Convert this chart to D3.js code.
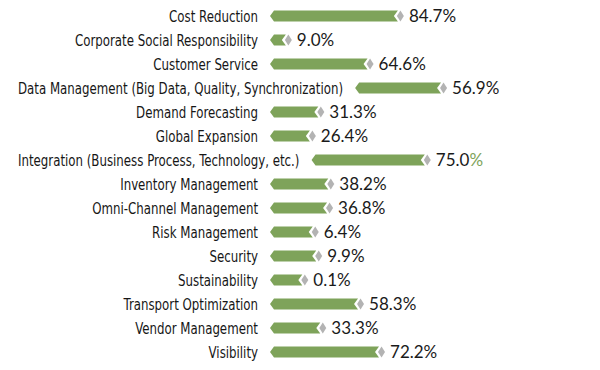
<!DOCTYPE html>
<html><head><meta charset="utf-8">
<script src="https://cdn.jsdelivr.net/npm/d3@7"></script>
<style>
body{margin:0;background:#fff;}
svg{display:block;}
</style></head>
<body>
<svg id="chart" width="600" height="370"></svg>
<script>
const categories = ["Cost Reduction","Corporate Social Responsibility","Customer Service","Data Management (Big Data, Quality, Synchronization)","Demand Forecasting","Global Expansion","Integration (Business Process, Technology, etc.)","Inventory Management","Omni-Channel Management","Risk Management","Security","Sustainability","Transport Optimization","Vendor Management","Visibility"];
// value labels as printed
const labelValues = [84.7, 9.0, 64.6, 56.9, 31.3, 26.4, 75.0, 38.2, 36.8, 6.4, 9.9, 0.1, 58.3, 33.3, 72.2];
// bar lengths as drawn in the picture (some differ from the printed labels)
const barValues = [84.7, 10.5, 64.6, 56.9, 32.0, 26.4, 75.0, 38.6, 37.8, 28.3, 30.6, 21.4, 58.3, 33.3, 72.2];

const svg = d3.select("#chart");
const y = d3.scaleBand().domain(categories).range([4, 364]).paddingInner(0.54).paddingOuter(0.27);
const x = d3.scaleLinear().domain([0, 100]).range([0, 151]);
const green = "#7ea35a", grey = "#b3b3b3";
const labelLeft = 18, labelRight = 258, gap = 12, sx = 0.82;

const rows = svg.selectAll("g.row").data(categories).join("g").attr("class","row");

rows.each(function(c, i){
  const g = d3.select(this);
  const cy = y(c) + y.bandwidth()/2;
  const t = g.append("text")
    .attr("x", 0).attr("y", 0).attr("dy", "0.36em")
    .attr("font-family", "'DejaVu Sans Condensed','DejaVu Sans',sans-serif")
    .attr("font-size", 16).attr("fill", "#161616")
    .text(c);
  const w = t.node().getComputedTextLength() * sx;
  let endX;
  if (labelLeft + w > labelRight) {
    t.attr("text-anchor","start").attr("transform", `translate(${labelLeft},${cy}) scale(${sx},1)`);
    endX = labelLeft + w;
  } else {
    t.attr("text-anchor","end").attr("transform", `translate(${labelRight},${cy}) scale(${sx},1)`);
    endX = labelRight;
  }
  const x0 = endX + gap;
  const x1 = x0 + x(barValues[i]);
  const h = y.bandwidth()/2;
  const tip = 4, notch = 4;
  g.append("path")
    .attr("d", `M${x0},${cy} L${x0+tip},${cy-h} L${x1},${cy-h} L${x1-notch},${cy} L${x1},${cy+h} L${x0+tip},${cy+h} Z`)
    .attr("fill", green);
  const dl = x1 - 1, dr = x1 + 6, dm = (dl+dr)/2;
  g.append("path")
    .attr("d", `M${dl},${cy} L${dm},${cy-h} L${dr},${cy} L${dm},${cy+h} Z`)
    .attr("fill", grey);
  const vt = g.append("text")
    .attr("x", dr + 5).attr("y", cy).attr("dy", "0.37em")
    .attr("font-family", "Lato,'Open Sans',sans-serif")
    .attr("font-size", 17).attr("fill", "#1a1a1a");
  vt.append("tspan").text(labelValues[i].toFixed(1));
  vt.append("tspan").attr("fill", i === 6 ? green : "#1a1a1a").text("%");
});
</script>
</body></html>
